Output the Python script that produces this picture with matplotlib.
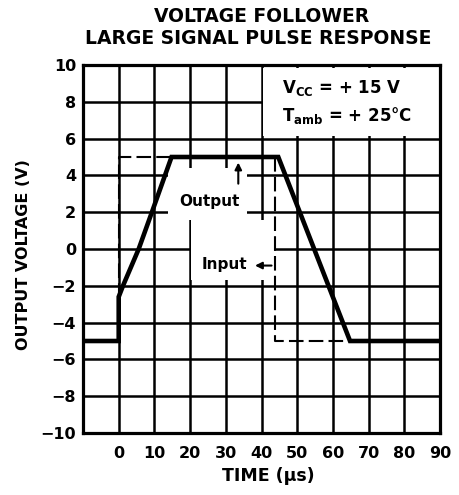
import matplotlib

matplotlib.use("Agg")
import matplotlib.pyplot as plt
from matplotlib.patches import Rectangle

plt.rcParams["font.family"] = ["DejaVu Sans"]
plt.rcParams["font.weight"] = "bold"
plt.rcParams["mathtext.default"] = "bf"

# output trace (time in us, volts)
out_t = [-10, 0, 0, 1.2, 5.6, 9.3, 14.8, 44.7, 64.8, 90]
out_v = [-5, -5, -2.6, -2, 0, 2, 5, 5, -5, -5]
# input pulse (dashed)
in_t = [-10, 0, 0, 43.8, 43.8, 90]
in_v = [-5, -5, 5, 5, -5, -5]

x_ticks = [0, 10, 20, 30, 40, 50, 60, 70, 80, 90]
x_grid = [-10, 0, 10, 20, 30, 40, 50, 60, 70, 80, 90]
y_ticks = [-10, -8, -6, -4, -2, 0, 2, 4, 6, 8, 10]

W, H = 459, 495
fig = plt.figure(figsize=(W / 100, H / 100), dpi=100)
ax = fig.add_axes([83 / W, 1 - 433 / H, (440 - 83) / W, (433 - 65) / H])

ax.set_xlim(-10, 90)
ax.set_ylim(-10, 10)
ax.set_xticks(x_grid)
ax.set_xticklabels([""] + [str(v) for v in x_ticks])
ax.set_yticks(y_ticks)
ax.tick_params(axis="both", length=0, labelsize=11.5)
ax.tick_params(axis="x", pad=9)
ax.tick_params(axis="y", pad=5)
ax.set_axisbelow(True)
ax.grid(True, color="black", linewidth=1.8)
for sp in ax.spines.values():
  sp.set_linewidth(2.3)

# blank areas behind the labels
for x0, y0, w, h in [(40.4, 6.15, 49.3, 3.7), (13.8, 1.6, 22.2, 2.8), (20.35, -1.7, 23.2, 3.3)]:
  ax.add_patch(Rectangle((x0, y0), w, h, facecolor="white", edgecolor="none", zorder=1))

ax.plot(in_t, in_v, color="black", linewidth=1.5, linestyle=(0, (7, 2.5)), zorder=3)
ax.plot(out_t, out_v, color="black", linewidth=3.3, solid_joinstyle="miter", zorder=4)

ax.text(25.3, 2.6, "Output", ha="center", va="center", fontsize=11, zorder=5)
ax.annotate("", xy=(33.5, 4.85), xytext=(33.5, 3.4),
            arrowprops=dict(arrowstyle="-|>", color="black", lw=1.5, mutation_scale=10), zorder=5)
ax.text(29.6, -0.85, "Input", ha="center", va="center", fontsize=11, zorder=5)
ax.annotate("", xy=(37.4, -0.9), xytext=(43.6, -0.9),
            arrowprops=dict(arrowstyle="-|>", color="black", lw=1.5, mutation_scale=10), zorder=5)

ax.text(45.7, 8.75, "V$_{CC}$ = + 15 V", ha="left", va="center", fontsize=12, zorder=5)
ax.text(45.7, 7.25, "T$_{amb}$ = + 25°C", ha="left", va="center", fontsize=12, zorder=5)

fig.text(262 / W, 1 - 16 / H, "VOLTAGE FOLLOWER", ha="center", va="center", fontsize=13.5)
fig.text(258 / W, 1 - 38.5 / H, "LARGE SIGNAL PULSE RESPONSE", ha="center", va="center", fontsize=13.5)
fig.text(268.5 / W, 1 - 476 / H, "TIME (µs)", ha="center", va="center", fontsize=12.5)
fig.text(23.5 / W, 1 - 255 / H, "OUTPUT VOLTAGE (V)", ha="center", va="center", rotation=90, fontsize=11.5)

fig.savefig("out.png", dpi=100)
